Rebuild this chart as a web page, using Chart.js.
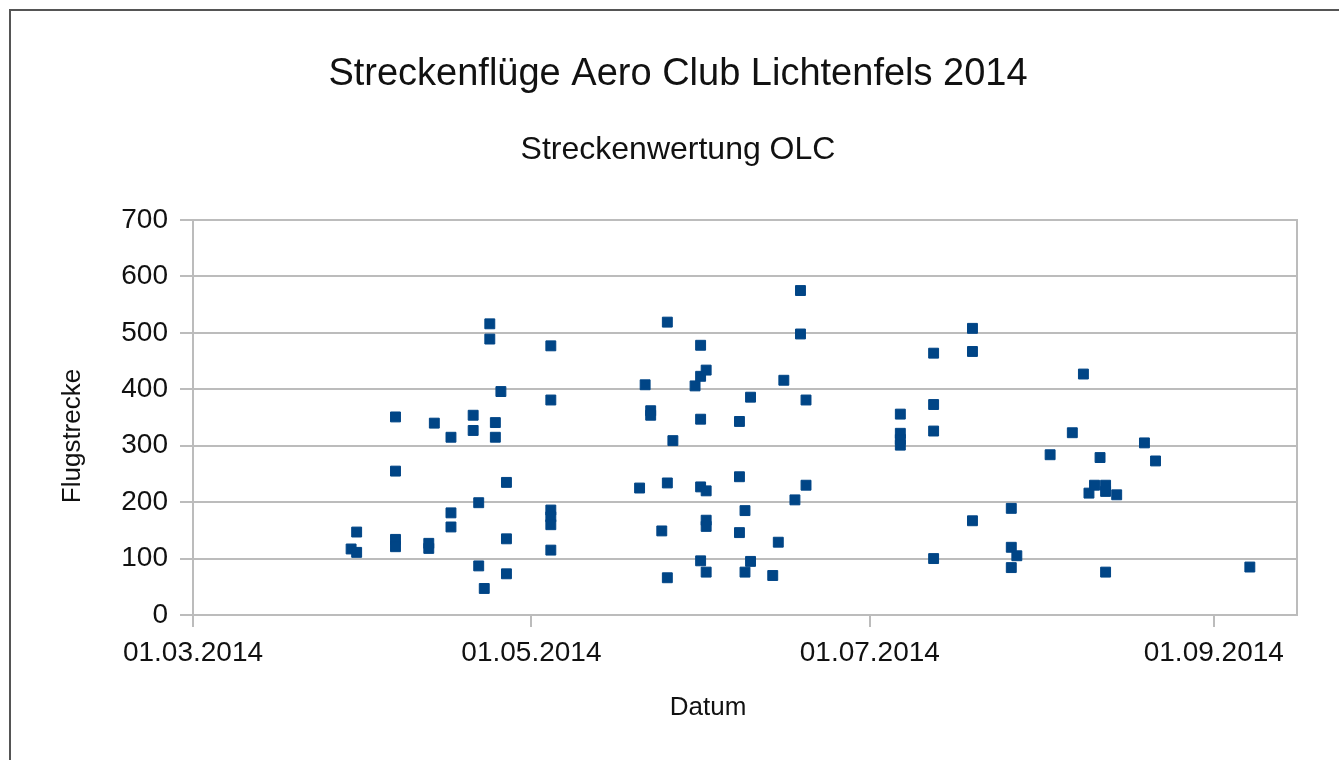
<!DOCTYPE html>
<html>
<head>
<meta charset="utf-8">
<script src="https://cdn.jsdelivr.net/npm/chart.js@4.4.1/dist/chart.umd.min.js"></script>
<style>
  html, body { margin: 0; padding: 0; background: #fff; }
  #wrap { position: relative; width: 1339px; height: 760px; }
  canvas { display: block; }
</style>
</head>
<body>
<div id="wrap"><canvas id="c" width="1339" height="760"></canvas></div>
<script>
// ---- Data ----
const chartTitle = 'Streckenflüge Aero Club Lichtenfels 2014';
const chartSubtitle = 'Streckenwertung OLC';
const xAxisTitle = 'Datum';
const yAxisTitle = 'Flugstrecke';

const flightDates = [
  '2014-03-29 12:00',
  '2014-03-30 12:00', '2014-03-30 12:00',
  '2014-04-06 12:00', '2014-04-06 12:00', '2014-04-06 12:00', '2014-04-06 12:00',
  '2014-04-12 12:00', '2014-04-12 12:00',
  '2014-04-13 12:00',
  '2014-04-16 12:00', '2014-04-16 12:00', '2014-04-16 12:00',
  '2014-04-20 12:00', '2014-04-20 12:00',
  '2014-04-21 12:00', '2014-04-21 12:00',
  '2014-04-22 12:00',
  '2014-04-23 12:00', '2014-04-23 12:00',
  '2014-04-24 12:00', '2014-04-24 12:00',
  '2014-04-25 12:00',
  '2014-04-26 12:00', '2014-04-26 12:00', '2014-04-26 12:00',
  '2014-05-04 12:00', '2014-05-04 12:00', '2014-05-04 12:00', '2014-05-04 12:00', '2014-05-04 12:00', '2014-05-04 12:00',
  '2014-05-20 12:00',
  '2014-05-21 12:00',
  '2014-05-22 12:00', '2014-05-22 12:00',
  '2014-05-24 12:00',
  '2014-05-25 12:00', '2014-05-25 12:00', '2014-05-25 12:00',
  '2014-05-26 12:00',
  '2014-05-30 12:00',
  '2014-05-31 12:00', '2014-05-31 12:00', '2014-05-31 12:00', '2014-05-31 12:00', '2014-05-31 12:00',
  '2014-06-01 12:00', '2014-06-01 12:00', '2014-06-01 12:00', '2014-06-01 12:00', '2014-06-01 12:00',
  '2014-06-07 12:00', '2014-06-07 12:00', '2014-06-07 12:00',
  '2014-06-08 12:00', '2014-06-08 12:00',
  '2014-06-09 12:00', '2014-06-09 12:00',
  '2014-06-13 12:00',
  '2014-06-14 12:00',
  '2014-06-15 12:00',
  '2014-06-17 12:00',
  '2014-06-18 12:00', '2014-06-18 12:00',
  '2014-06-19 12:00', '2014-06-19 12:00',
  '2014-07-06 12:00', '2014-07-06 12:00', '2014-07-06 12:00', '2014-07-06 12:00',
  '2014-07-12 12:00', '2014-07-12 12:00', '2014-07-12 12:00', '2014-07-12 12:00',
  '2014-07-19 12:00', '2014-07-19 12:00', '2014-07-19 12:00',
  '2014-07-26 12:00', '2014-07-26 12:00', '2014-07-26 12:00',
  '2014-07-27 12:00',
  '2014-08-02 12:00',
  '2014-08-06 12:00',
  '2014-08-08 12:00',
  '2014-08-09 12:00',
  '2014-08-10 12:00',
  '2014-08-11 12:00',
  '2014-08-12 12:00', '2014-08-12 12:00', '2014-08-12 12:00',
  '2014-08-14 12:00',
  '2014-08-19 12:00',
  '2014-08-21 12:00',
  '2014-09-07 12:00'
];

const distances = [
  117,
  147, 111,
  351, 255, 134, 121,
  127, 118,
  340,
  315, 181, 156,
  354, 327,
  199, 87,
  47,
  516, 489,
  341, 315,
  396,
  235, 135, 73,
  477, 381, 186, 174, 160, 115,
  225,
  408,
  362, 354,
  149,
  519, 234, 66,
  309,
  406,
  478, 423, 347, 227, 96,
  434, 220, 168, 157, 76,
  343, 245, 146,
  185, 76,
  386, 95,
  70,
  129,
  416,
  204,
  575, 498,
  381, 230,
  356, 322, 311, 301,
  464, 373, 326, 100,
  508, 467, 167,
  189, 120, 84,
  105,
  284,
  323,
  427,
  216,
  230,
  279,
  230, 219, 76,
  213,
  305,
  273,
  85
];

const xTickDates = ['2014-03-01', '2014-05-01', '2014-07-01', '2014-09-01'];
const xRange = ['2014-03-01', '2014-09-16'];
const yTicks = [0, 100, 200, 300, 400, 500, 600, 700];

// ---- Helpers ----
function toTime(s) {
  const [d, tm] = s.split(' ');
  const [y, m, dd] = d.split('-').map(Number);
  const [h, mi] = (tm || '00:00').split(':').map(Number);
  return Date.UTC(y, m - 1, dd, h, mi);
}
function fmtDate(v) {
  const d = new Date(v);
  const p = n => String(n).padStart(2, '0');
  return p(d.getUTCDate()) + '.' + p(d.getUTCMonth() + 1) + '.' + d.getUTCFullYear();
}

const FONT = '"Liberation Sans", Arial, Helvetica, sans-serif';
const GRID = '#bcbcbc';
const POINT = '#004586';
const TEXT = '#111';

const framePlugin = {
  id: 'frame',
  beforeDraw(chart) {
    const ctx = chart.ctx;
    ctx.save();
    ctx.fillStyle = '#fff';
    ctx.fillRect(0, 0, chart.width, chart.height);
    ctx.strokeStyle = '#555';
    ctx.lineWidth = 2;
    ctx.beginPath();
    ctx.moveTo(10, chart.height + 5);
    ctx.lineTo(10, 10);
    ctx.lineTo(chart.width + 5, 10);
    ctx.stroke();
    ctx.restore();
  },
  afterDraw(chart) {
    // axis titles, placed as in the reference
    const ctx = chart.ctx;
    ctx.save();
    ctx.fillStyle = TEXT;
    ctx.font = '26px ' + FONT;
    ctx.textAlign = 'center';
    ctx.textBaseline = 'middle';
    ctx.fillText(xAxisTitle, 708, 708);
    ctx.translate(73, 436);
    ctx.rotate(-Math.PI / 2);
    ctx.fillText(yAxisTitle, 0, 0);
    ctx.restore();
  }
};

new Chart(document.getElementById('c'), {
  type: 'scatter',
  data: {
    datasets: [{
      label: yAxisTitle,
      data: flightDates.map((d, i) => ({ x: toTime(d), y: distances[i] })),
      pointStyle: 'rect',
      pointRadius: 7,
      pointHoverRadius: 7,
      backgroundColor: POINT,
      borderColor: POINT,
      borderWidth: 1
    }]
  },
  options: {
    responsive: false,
    animation: false,
    devicePixelRatio: 1,
    layout: { padding: { left: 17, right: 0, top: 0, bottom: 0 } },
    plugins: {
      legend: { display: false },
      tooltip: { enabled: false },
      title: {
        display: true,
        text: chartTitle,
        color: TEXT,
        font: { family: FONT, size: 38, weight: 'normal', lineHeight: 1.2 },
        padding: { top: 52, bottom: 0 }
      },
      subtitle: {
        display: true,
        text: chartSubtitle,
        color: TEXT,
        font: { family: FONT, size: 32, weight: 'normal', lineHeight: 1.2 },
        padding: { top: 33, bottom: 51 }
      }
    },
    scales: {
      x: {
        type: 'linear',
        min: toTime(xRange[0]),
        max: toTime(xRange[1]),
        afterBuildTicks(scale) {
          scale.ticks = xTickDates.map(d => ({ value: toTime(d) }));
        },
        afterFit(scale) { scale.height = 145; },
        ticks: {
          callback: v => fmtDate(v),
          autoSkip: false,
          maxRotation: 0,
          minRotation: 0,
          padding: 9,
          color: TEXT,
          font: { family: FONT, size: 28 }
        },
        grid: {
          drawOnChartArea: false,
          drawTicks: true,
          tickLength: 12,
          color: GRID,
          lineWidth: 2
        },
        border: { display: true, color: GRID, width: 2 },
        title: { display: false }
      },
      y: {
        min: 0,
        max: 700,
        afterBuildTicks(scale) {
          scale.ticks = yTicks.map(v => ({ value: v }));
        },
        afterFit(scale) { scale.width = 176; },
        ticks: {
          padding: 12,
          color: TEXT,
          font: { family: FONT, size: 28 }
        },
        grid: {
          drawOnChartArea: true,
          drawTicks: true,
          tickLength: 13,
          color: GRID,
          lineWidth: 2
        },
        border: { display: true, color: GRID, width: 2 },
        title: { display: false }
      },
      yRight: {
        position: 'right',
        display: true,
        min: 0,
        max: 700,
        afterFit(scale) { scale.width = 42; },
        ticks: { display: false },
        grid: { display: false, drawTicks: false },
        border: { display: true, color: GRID, width: 2 },
        title: { display: false }
      }
    }
  },
  plugins: [framePlugin]
});
</script>
</body>
</html>
